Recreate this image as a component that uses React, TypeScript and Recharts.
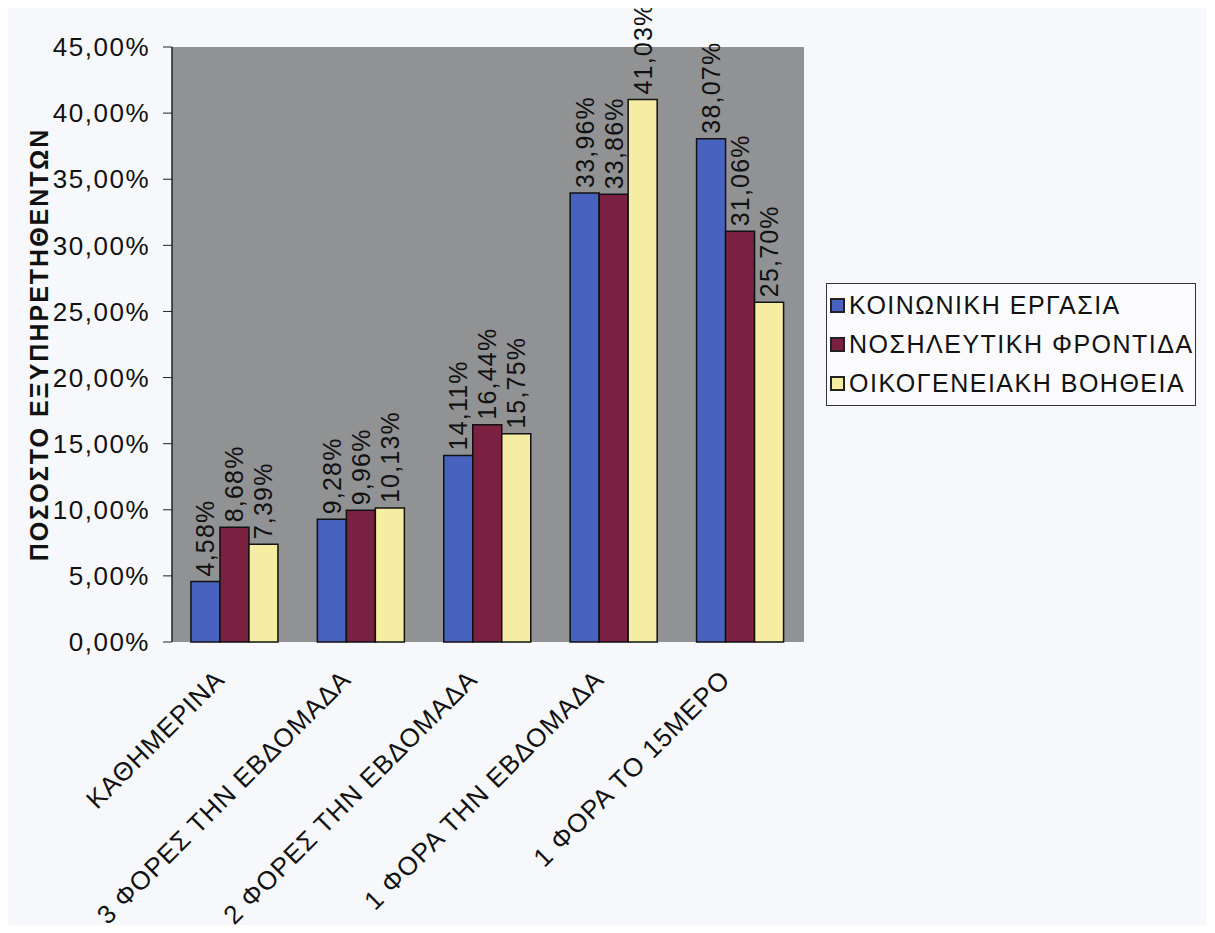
import React from 'react';
import {
  BarChart,
  Bar,
  XAxis,
  YAxis,
  CartesianGrid,
  Legend,
  LabelList,
} from 'recharts';

const categories = [
  'ΚΑΘΗΜΕΡΙΝΑ',
  '3 ΦΟΡΕΣ ΤΗΝ ΕΒΔΟΜΑΔΑ',
  '2 ΦΟΡΕΣ ΤΗΝ ΕΒΔΟΜΑΔΑ',
  '1 ΦΟΡΑ ΤΗΝ ΕΒΔΟΜΑΔΑ',
  '1 ΦΟΡΑ ΤΟ 15ΜΕΡΟ',
];
const socialWork = [4.58, 9.28, 14.11, 33.96, 38.07];
const nursingCare = [8.68, 9.96, 16.44, 33.86, 31.06];
const familyHelp = [7.39, 10.13, 15.75, 41.03, 25.7];
const yTicks = [0, 5, 10, 15, 20, 25, 30, 35, 40, 45];
// category boundaries, where the x-axis tick marks sit
const edgeTicks = [0, 1, 2, 3, 4, 5];

const series = [
  { key: 'social', name: 'ΚΟΙΝΩΝΙΚΗ ΕΡΓΑΣΙΑ', color: '#4862bf' },
  { key: 'nursing', name: 'ΝΟΣΗΛΕΥΤΙΚΗ ΦΡΟΝΤΙΔΑ', color: '#7a2040' },
  { key: 'family', name: 'ΟΙΚΟΓΕΝΕΙΑΚΗ ΒΟΗΘΕΙΑ', color: '#f5eea2' },
];

const data = categories.map((c, i) => ({
  name: c,
  social: socialWork[i],
  nursing: nursingCare[i],
  family: familyHelp[i],
}));

const FONT = 'Arial, "Liberation Sans", sans-serif';
const pct = (v: number) => v.toFixed(2).replace('.', ',') + '%';

function BarValueLabel(props: any) {
  const { x, y, width, value } = props;
  const cx = x + width / 2;
  const top = y - 5;
  return (
    <text
      x={cx}
      y={top}
      transform={`rotate(-90, ${cx}, ${top})`}
      textAnchor="start"
      dominantBaseline="central"
      fontFamily={FONT}
      fontSize={25}
      letterSpacing={1.2}
      fill="#111"
    >
      {pct(value)}
    </text>
  );
}

function CategoryTick({ x, y, payload }: any) {
  const px = x - 9;
  const py = y + 31;
  return (
    <text
      x={px}
      y={py}
      transform={`rotate(-45, ${px}, ${py})`}
      textAnchor="end"
      fontFamily={FONT}
      fontSize={26}
      letterSpacing={1}
      fill="#111"
    >
      {payload.value}
    </text>
  );
}

function SeriesLegend() {
  return (
    <div
      style={{
        border: '1.5px solid #333',
        padding: '2px 6px 2px 3px',
        fontFamily: FONT,
        fontSize: 25,
        letterSpacing: 1.5,
        color: '#111',
        background: '#fbfbfd',
        whiteSpace: 'nowrap',
      }}
    >
      {series.map((s) => (
        <div
          key={s.key}
          style={{ display: 'flex', alignItems: 'center', height: 39 }}
        >
          <span
            style={{
              width: 11,
              height: 11,
              background: s.color,
              border: '2px solid #222',
              marginRight: 4,
              flexShrink: 0,
            }}
          />
          <span>{s.name}</span>
        </div>
      ))}
    </div>
  );
}

export default function App() {
  return (
    <div style={{ background: '#f7f8fb', width: 1215, height: 933, margin: -8 }}>
      <BarChart
        width={1215}
        height={933}
        data={data}
        margin={{ top: 47, right: 41, left: 8, bottom: 0 }}
        barCategoryGap="15%"
        barGap={0}
      >
        <CartesianGrid
          horizontal={false}
          vertical={false}
          fill="#919294"
          fillOpacity={1}
        />
        <XAxis
          xAxisId="edges"
          type="number"
          domain={[0, 5]}
          ticks={edgeTicks}
          interval={0}
          height={0}
          tick={false}
          tickSize={9}
          axisLine={{ stroke: '#222', strokeWidth: 1.5 }}
          tickLine={{ stroke: '#222' }}
        />
        <XAxis
          dataKey="name"
          height={291}
          interval={0}
          tick={<CategoryTick />}
          tickLine={false}
          axisLine={false}
        />
        <YAxis
          width={164}
          domain={[0, 45]}
          ticks={yTicks}
          interval={0}
          tickFormatter={(v: number) => pct(v)}
          tick={{ fontFamily: FONT, fontSize: 26, letterSpacing: 1.5, fill: '#111' }}
          tickSize={9}
          tickMargin={13}
          axisLine={{ stroke: '#222', strokeWidth: 1.5 }}
          tickLine={{ stroke: '#222' }}
          label={{
            value: 'ΠΟΣΟΣΤΟ ΕΞΥΠΗΡΕΤΗΘΕΝΤΩΝ',
            angle: -90,
            position: 'insideLeft',
            offset: 31,
            style: {
              fontFamily: FONT,
              fontSize: 25,
              fontWeight: 'bold',
              letterSpacing: 2,
              fill: '#111',
              textAnchor: 'middle',
            },
          }}
        />
        <Legend
          layout="horizontal"
          verticalAlign="middle"
          align="right"
          content={<SeriesLegend />}
          wrapperStyle={{ left: 826, top: 283, width: 370, height: 'auto' }}
        />
        {series.map((s) => (
          <Bar
            key={s.key}
            dataKey={s.key}
            name={s.name}
            fill={s.color}
            stroke="#111"
            strokeWidth={1.5}
            isAnimationActive={false}
          >
            <LabelList dataKey={s.key} content={<BarValueLabel />} />
          </Bar>
        ))}
      </BarChart>
    </div>
  );
}
